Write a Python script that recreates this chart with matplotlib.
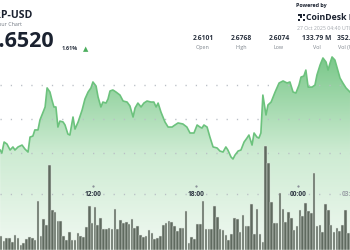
import numpy as np
import matplotlib
matplotlib.use("Agg")
import matplotlib.pyplot as plt
from matplotlib.colors import LinearSegmentedColormap
from matplotlib.patches import Rectangle

plt.rcParams["font.family"] = ["Open Sans", "DejaVu Sans"]

# ---------------- data ----------------
price_times = ["06:32","06:38","06:46","06:56","07:07","07:17","07:24","07:35","07:49","07:59",
    "08:10","08:17","08:27","08:34","08:45","08:52","09:03","09:10","09:17","09:27",
    "09:34","09:41","09:48","09:55","10:02","10:13","10:20","10:30","10:37","10:48",
    "10:55","11:06","11:20","11:30","11:41","11:51","11:58","12:09","12:16","12:26",
    "12:33","12:44","12:51","12:58","13:08","13:19","13:33","13:44","13:58","14:08",
    "14:19","14:26","14:36","14:47","14:57","15:08","15:22","15:32","15:40","15:47",
    "15:57","16:11","16:22","16:36","16:46","16:57","17:14","17:28","17:39","17:53",
    "18:04","18:14","18:21","18:28","18:39","18:49","19:00","19:14","19:24","19:35",
    "19:45","19:52","20:03","20:10","20:17","20:28","20:38","20:49","20:59","21:06",
    "21:17","21:24","21:34","21:41","21:48","21:55","22:06","22:13","22:24","22:38",
    "22:52","23:06","23:20","23:30","23:41","23:51","00:02","00:09","00:19","00:26",
    "00:34","00:48","00:58","01:05","01:16","01:26","01:37","01:44","01:51","01:58",
    "02:08","02:15","02:26","02:36","02:47","03:01"]
price_values = [2.6216,2.6198,2.6263,2.6251,2.6216,2.6234,2.6216,2.6234,2.6245,2.6222,
    2.6204,2.6292,2.6298,2.6334,2.6334,2.6393,2.6439,2.6469,2.6581,2.6557,
    2.6510,2.6469,2.6469,2.6351,2.6386,2.6381,2.6363,2.6310,2.6304,2.6410,
    2.6339,2.6381,2.6451,2.6516,2.6557,2.6581,2.6616,2.6592,2.6528,2.6469,
    2.6498,2.6492,2.6516,2.6563,2.6569,2.6557,2.6539,2.6504,2.6498,2.6475,
    2.6410,2.6463,2.6492,2.6469,2.6492,2.6504,2.6498,2.6498,2.6469,2.6492,
    2.6439,2.6381,2.6351,2.6351,2.6363,2.6375,2.6369,2.6351,2.6316,2.6316,
    2.6363,2.6351,2.6345,2.6363,2.6351,2.6292,2.6234,2.6228,2.6210,2.6204,
    2.6234,2.6216,2.6175,2.6163,2.6186,2.6210,2.6216,2.6263,2.6286,2.6304,
    2.6245,2.6316,2.6292,2.6286,2.6316,2.6539,2.6422,2.6481,2.6498,2.6557,
    2.6610,2.6622,2.6610,2.6616,2.6557,2.6551,2.6598,2.6645,2.6651,2.6686,
    2.6586,2.6586,2.6598,2.6657,2.6716,2.6757,2.6733,2.6686,2.6727,2.6763,
    2.6745,2.6704,2.6639,2.6610,2.6581,2.6557]

volume_start = "06:30"          # 10-minute bars
volume_values = [0.70,0.45,0.60,0.60,0.40,0.75,0.60,0.25,0.35,0.55,
    0.65,0.60,0.50,2.45,0.70,1.55,1.25,4.25,2.00,1.90,
    1.45,1.45,0.70,0.50,0.90,0.50,0.50,0.85,0.70,0.65,
    1.15,2.20,1.35,2.15,1.25,1.60,1.05,1.05,1.10,1.05,
    2.05,1.05,1.50,1.35,1.40,1.30,1.55,1.10,1.20,0.75,
    0.65,0.70,1.00,0.85,0.55,0.60,0.70,1.25,1.35,1.45,
    1.40,1.20,
    0.95,1.10,1.10,1.95,0.35,0.65,0.55,1.30,1.30,2.45,
    1.05,1.05,1.05,2.20,1.65,1.05,1.00,0.75,0.50,0.80,
    1.60,1.55,0.90,1.75,1.20,1.20,2.30,0.80,2.05,0.80,
    0.40,5.20,4.35,2.40,1.35,1.35,2.85,2.05,1.40,1.90,
    1.60,1.00,1.20,2.00,1.70,2.35,1.95,1.85,3.85,1.20,
    1.25,0.90,2.30,2.00,1.25,0.90,1.10,0.95,1.25,2.00,
    0.85,1.00,0.95]

tick_labels = ["12:00", "18:00", "00:00", "03:00"]
tick_hours = [12, 18, 24, 27]
grid_prices = [2.66, 2.64, 2.62]

stat_values = ["2.6101", "2.6768", "2.6074", "133.79 M", "352.53 M"]
stat_labels = ["Open", "High", "Low", "Vol", "Vol (USD)"]


def to_hours(s):
    h, m = s.split(":")
    v = int(h) + int(m) / 60.0
    return v + 24 if v < 6 else v


t = np.array([to_hours(s) for s in price_times])
p = np.array(price_values)
vt0 = to_hours(volume_start)
vt = vt0 + (np.arange(len(volume_values)) + 0.5) / 6.0
vol = np.array(volume_values)

# ---------------- figure ----------------
W, H = 350, 250
fig = plt.figure(figsize=(W / 100, H / 100), dpi=100)
fig.patch.set_facecolor("white")
ax = fig.add_axes([0, 0, 1, 1])
x0, x1 = 6.5258, 27.018
ymin, ymax = 2.5628, 2.7098
ax.set_xlim(x0, x1)
ax.set_ylim(ymin, ymax)
ax.axis("off")

# gradient fill under the line
poly = ax.fill_between(t, p, ymin, color="none", lw=0)
path = poly.get_paths()[0]
cmap = LinearSegmentedColormap.from_list("g", ["#f1f9f2", "#cdebd2", "#78c788"])
grad = np.linspace(1, 0, 256).reshape(-1, 1)
im = ax.imshow(grad, extent=[x0, x1, ymin, 2.6775], aspect="auto", cmap=cmap,
               origin="upper", zorder=1, interpolation="bicubic")
im.set_clip_path(path, ax.transData)
ax.set_ylim(ymin, ymax)

# dotted grid
dots = (0, (0.9, 6.5))
for g in grid_prices:
    ax.axhline(g, color="#b9bec5", lw=1.0, ls=dots, zorder=2)
ax.axhline(ymin + (ymax - ymin) * 0.2228, color="#b9bec5", lw=1.0, ls=dots, zorder=2)

ax.plot(t, p, color="#6cc27d", lw=1.2, zorder=3, solid_joinstyle="round")

# volume bars
ax2 = ax.twinx()
ax2.set_position([0, 0, 1, 1])
ax2.set_ylim(0, 12.5)
ax2.set_xlim(x0, x1)
ax2.axis("off")
ax2.bar(vt, vol, width=0.15, color="#5f6a5f", edgecolor="#dde5dd", linewidth=0.35, zorder=2)

# time labels
for lab, h in zip(tick_labels, tick_hours):
    col = "#2b3340" if lab != "03:00" else "#9aa0a6"
    ax2.text(h, 12.5 * (1 - 195 / 250), lab, ha="center", va="center", fontsize=4.8,
             fontweight="bold", color=col, zorder=5)
    if lab != "03:00":
        ax2.plot([h], [12.5 * (1 - 185.5 / 250)], marker="s", ms=0.6, color="#8a9098", zorder=5)


def fx(x):
    return x / W


def fy(y):
    return 1 - y / H


# header texts
fig.text(fx(32.5), fy(15), "XRP-USD", ha="right", va="center", fontsize=7.6,
         fontweight="bold", color="#1b2230")
fig.text(fx(21.5), fy(24.5), "24 Hour Chart", ha="right", va="center", fontsize=3.8,
         color="#6f7680")
fig.text(fx(53.5), fy(41.5), "$2.6520", ha="right", va="center", fontsize=15.5,
         fontweight="bold", color="#1b2230")
fig.text(fx(62), fy(49), "1.61%", ha="left", va="center", fontsize=4.0,
         fontweight="bold", color="#2b3340")
fig.text(fx(86), fy(49), "\u25B2", ha="center", va="center", fontsize=5,
         color="#4cae5e", family="DejaVu Sans")

fig.text(fx(296), fy(5.8), "Powered by", ha="left", va="center", fontsize=3.9,
         fontweight="bold", color="#1b2230")
# logo icon
for i in range(3):
    for j in range(3):
        if (i + j) % 2 == 0 or i == 0:
            fig.patches.append(Rectangle((fx(297.5 + j * 2.6), fy(13.5 + i * 2.6) - 2.2 / H),
                                         2.2 / W, 2.2 / H, transform=fig.transFigure,
                                         color="#1b2230", lw=0))
fig.text(fx(306.5), fy(17), "CoinDesk Data", ha="left", va="center", fontsize=6.3,
         fontweight="bold", color="#1b2230")
fig.text(fx(297), fy(29), "27 Oct 2025 04:40 UTC", ha="left", va="center", fontsize=3.7,
         color="#a3a8ae")

stat_x = [203, 241, 279, 317, 337]
for k, (sx, sv, sl) in enumerate(zip(stat_x, stat_values, stat_labels)):
    ha = "left" if k == 4 else "center"
    fig.text(fx(sx), fy(38.5), sv, ha=ha, va="center", fontsize=4.9,
             fontweight="bold", color="#2b3340")
    fig.text(fx(sx + (1 if k == 4 else 0)), fy(47.5), sl, ha=ha, va="center", fontsize=3.9,
             color="#7d848c")

fig.savefig("out.png", dpi=100, facecolor="white")
